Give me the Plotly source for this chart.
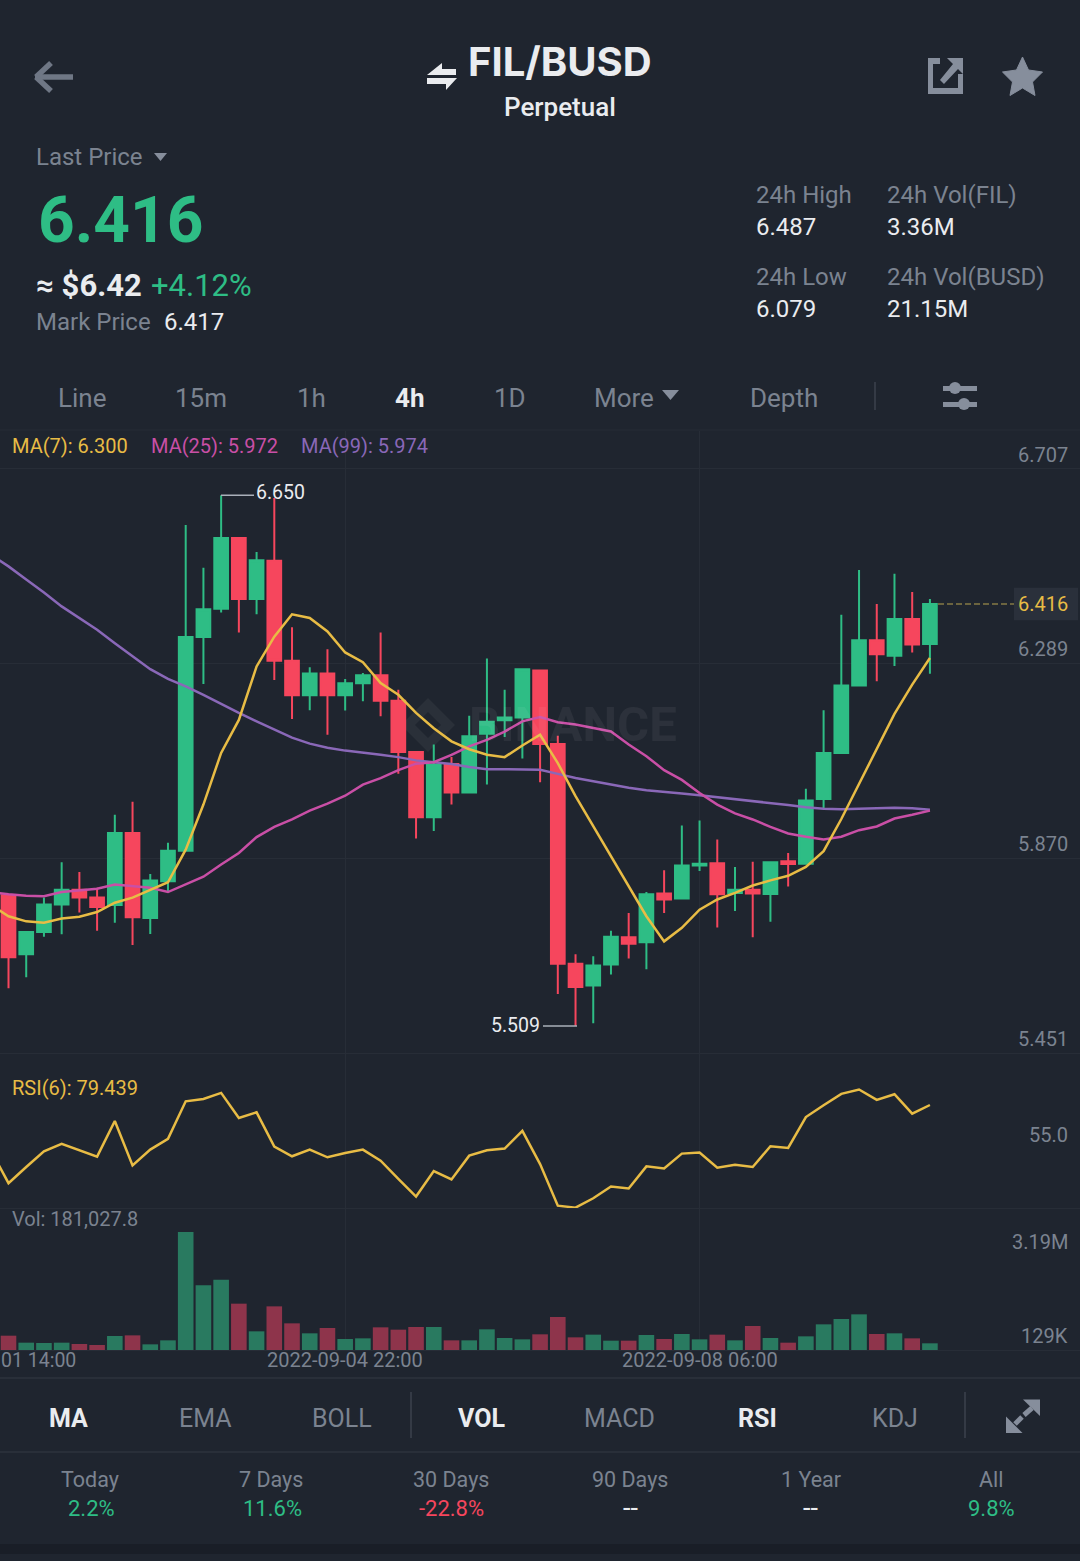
# FIL/BUSD perpetual 4h candle screen: price + MAs, RSI(6) and volume panes.
import plotly.graph_objects as go
from plotly.subplots import make_subplots

# price data, one entry per 4h candle
opens = [5.790, 5.663, 5.711, 5.770, 5.802, 5.785, 5.769, 5.924, 5.741, 5.820,
         5.886, 6.345, 6.406, 6.558, 6.427, 6.509, 6.294, 6.220, 6.267, 6.220,
         6.246, 6.263, 6.208, 6.098, 5.958, 6.072, 6.011, 6.137, 6.166, 6.172,
         6.273, 6.115, 5.643, 5.596, 5.641, 5.700, 5.689, 5.794, 5.783, 5.854,
         5.859, 5.795, 5.802, 5.793, 5.863, 5.858, 5.997, 6.096, 6.241, 6.338,
         6.305, 6.384, 6.330]
closes = [5.657, 5.711, 5.770, 5.802, 5.785, 5.765, 5.924, 5.743, 5.822, 5.886,
          6.345, 6.405, 6.558, 6.427, 6.510, 6.294, 6.220, 6.267, 6.220, 6.246,
          6.263, 6.208, 6.098, 5.958, 6.071, 6.011, 6.132, 6.163, 6.172, 6.276,
          6.115, 5.643, 5.593, 5.639, 5.701, 5.686, 5.792, 5.781, 5.854, 5.858,
          5.792, 5.802, 5.794, 5.861, 5.857, 5.994, 6.096, 6.241, 6.338, 6.308,
          6.384, 6.329, 6.416]
highs = [5.790, 5.711, 5.785, 5.861, 5.840, 5.806, 5.963, 5.991, 5.836, 5.903,
         6.586, 6.494, 6.650, 6.560, 6.528, 6.644, 6.366, 6.280, 6.319, 6.255,
         6.268, 6.355, 6.232, 6.100, 6.114, 6.087, 6.176, 6.299, 6.232, 6.276,
         6.273, 6.133, 5.663, 5.659, 5.714, 5.752, 5.797, 5.844, 5.940, 5.951,
         5.910, 5.851, 5.862, 5.861, 5.881, 6.019, 6.188, 6.393, 6.489, 6.416,
         6.481, 6.442, 6.427]
lows = [5.590, 5.614, 5.701, 5.706, 5.753, 5.714, 5.731, 5.683, 5.707, 5.798,
        5.886, 6.244, 6.398, 6.355, 6.394, 6.253, 6.169, 6.188, 6.135, 6.187,
        6.207, 6.175, 6.051, 5.912, 5.928, 5.985, 6.011, 6.028, 6.130, 6.084,
        6.033, 5.578, 5.509, 5.515, 5.620, 5.654, 5.631, 5.752, 5.783, 5.842,
        5.721, 5.756, 5.700, 5.733, 5.809, 5.858, 5.976, 6.096, 6.239, 6.250,
        6.283, 6.312, 6.266]
# volumes in thousands
volumes = [387, 198, 189, 198, 162, 135, 378, 396, 153, 261,
           3190, 1748, 1901, 1253, 505, 1180, 721, 451, 595, 297,
           315, 613, 550, 622, 622, 261, 261, 559, 324, 288,
           424, 892, 342, 415, 252, 252, 405, 297, 433, 288,
           415, 261, 649, 324, 198, 369, 694, 838, 964, 433,
           451, 315, 181]

# indicator lines start one candle earlier, off the left edge
ma7 = [5.770, 5.745, 5.734, 5.731, 5.740, 5.744, 5.754, 5.774, 5.785, 5.801, 5.818,
       5.888, 5.985, 6.096, 6.167, 6.282, 6.346, 6.394, 6.386, 6.357, 6.312,
       6.291, 6.246, 6.221, 6.182, 6.149, 6.121, 6.104, 6.092, 6.087, 6.112,
       6.135, 6.074, 6.003, 5.938, 5.874, 5.810, 5.745, 5.691, 5.720, 5.759,
       5.781, 5.795, 5.811, 5.822, 5.832, 5.851, 5.885, 5.954, 6.029, 6.104,
       6.180, 6.243, 6.300]
ma25 = [5.797, 5.792, 5.789, 5.788, 5.797, 5.801, 5.804, 5.813, 5.810, 5.806, 5.797,
        5.813, 5.830, 5.856, 5.881, 5.915, 5.937, 5.953, 5.972, 5.987, 6.004,
        6.028, 6.042, 6.059, 6.073, 6.076, 6.092, 6.110, 6.124, 6.142, 6.164,
        6.173, 6.162, 6.157, 6.149, 6.142, 6.114, 6.089, 6.059, 6.038, 6.010,
        5.985, 5.966, 5.953, 5.937, 5.923, 5.916, 5.910, 5.916, 5.930, 5.938,
        5.955, 5.963, 5.972]
ma99 = [6.522, 6.497, 6.469, 6.441, 6.411, 6.386, 6.361, 6.332, 6.303, 6.276, 6.255,
        6.239, 6.221, 6.201, 6.182, 6.164, 6.146, 6.129, 6.116, 6.107, 6.101,
        6.097, 6.092, 6.087, 6.080, 6.076, 6.072, 6.066, 6.061, 6.061, 6.061,
        6.060, 6.051, 6.042, 6.035, 6.028, 6.021, 6.016, 6.013, 6.009, 6.005,
        6.001, 5.996, 5.992, 5.988, 5.984, 5.979, 5.976, 5.975, 5.976, 5.977,
        5.978, 5.977, 5.974]
rsi6 = [53.45, 34.57, 43.82, 52.88, 57.11, 53.45, 49.79, 70.22, 44.78, 53.84, 60.00,
        81.58, 82.93, 86.40, 71.95, 75.23, 55.57, 49.99, 53.84, 49.41, 51.91,
        53.84, 47.48, 37.08, 26.86, 41.51, 36.69, 50.37, 53.45, 54.42, 64.63,
        45.50, 21.66, 20.51, 25.90, 32.65, 31.49, 44.21, 43.05, 51.53, 52.11,
        43.44, 45.17, 43.82, 55.77, 54.80, 72.53, 79.27, 85.82, 88.33, 82.35,
        85.63, 74.45, 79.44]

price_ticks = [6.707, 6.289, 5.870, 5.451]
time_ticks = [19, 39]
time_labels = ["2022-09-04 22:00", "2022-09-08 06:00"]

BG = "#1f252f"
GRID = "#272d37"
SEP = "#343a45"
GREEN = "#2ebd85"
RED = "#f6465d"
VOL_GREEN = "#297a60"
VOL_RED = "#8e344b"
YELLOW = "#e8bc45"
PINK = "#c94fa6"
PURPLE = "#8a68b8"
GRAY = "#7b8390"
ICON = "#868e9c"
WHITE = "#eaecef"
FONT = "Roboto"
W, H = 1080, 1561


def fx(px):
    return px / W


def fy(py):
    return 1 - py / H


def label(text, x, y, size, color=GRAY, anchor="left", weight=400, family=FONT):
    return dict(text=text, x=fx(x), y=fy(y), xref="paper", yref="paper", xanchor=anchor,
                yanchor="middle", showarrow=False, borderpad=0,
                font=dict(family=family, size=size, color=color, weight=weight))


def axis_label(text, yref, value, shift):
    return dict(text=text, x=fx(1069), y=value, xref="paper", yref=yref, xanchor="right",
                yanchor="middle", yshift=shift, showarrow=False, borderpad=0,
                font=dict(family=FONT, size=20, color=GRAY))


def poly(points, fill, line=None, width=0, layer="above"):
    path = "M" + " L".join(f"{fx(x):.5f},{fy(y):.5f}" for x, y in points) + " Z"
    return dict(type="path", path=path, xref="paper", yref="paper", fillcolor=fill, layer=layer,
                line=dict(color=line or fill, width=width))


def seg(x0, y0, x1, y1, color, width=1):
    return dict(type="line", x0=fx(x0), y0=fy(y0), x1=fx(x1), y1=fy(y1), xref="paper", yref="paper",
                line=dict(color=color, width=width))


candle_x = list(range(len(opens)))
line_x = list(range(-1, len(opens)))
vol_colors = [VOL_GREEN if c >= o else VOL_RED for o, c in zip(opens, closes)]

fig = make_subplots(rows=3, cols=1, shared_xaxes=True)

fig.add_trace(go.Candlestick(x=candle_x, open=opens, high=highs, low=lows, close=closes,
                             whiskerwidth=0,
                             increasing=dict(line=dict(color=GREEN, width=2), fillcolor=GREEN),
                             decreasing=dict(line=dict(color=RED, width=2), fillcolor=RED)),
              row=1, col=1)
for values, color in [(ma99, PURPLE), (ma25, PINK), (ma7, YELLOW)]:
    fig.add_trace(go.Scatter(x=line_x, y=values, mode="lines", line=dict(color=color, width=2.5)),
                  row=1, col=1)
fig.add_trace(go.Scatter(x=line_x, y=rsi6, mode="lines", line=dict(color=YELLOW, width=2.5)),
              row=2, col=1)
fig.add_trace(go.Bar(x=candle_x, y=volumes, marker=dict(color=vol_colors, line_width=0)),
              row=3, col=1)

# axes share the candle index; the left edge of the page sits half a candle before the first one
fig.update_xaxes(range=[-0.48, 60.47], tickvals=time_ticks, showticklabels=False, showgrid=True,
                 gridcolor=GRID, gridwidth=1, showline=True, linecolor=GRID, linewidth=1, ticks="",
                 zeroline=False, fixedrange=True, rangeslider_visible=False)
fig.update_yaxes(showticklabels=False, zeroline=False, fixedrange=True, showgrid=False, ticks="")
fig.update_yaxes(range=[5.451, 6.788], tickvals=price_ticks, showgrid=True, gridcolor=GRID,
                 row=1, col=1)
fig.update_yaxes(range=[20.3, 109.3], row=2, col=1)
fig.update_yaxes(range=[0, 3840], row=3, col=1)

fig.update_layout(yaxis=dict(domain=[fy(1053), fy(431)]),
                  yaxis2=dict(domain=[fy(1208), fy(1053)]),
                  yaxis3=dict(domain=[fy(1350), fy(1208)]))

annotations = [
    # header
    label("FIL/BUSD", 560, 62, 40, WHITE, "center", 700, "Inter"),
    label("Perpetual", 560, 107, 26, WHITE, "center", 500),
    label("Last Price", 35, 157, 24),
    label("6.416", 37, 220, 64, GREEN, weight=700),
    label("≈ $6.42", 35, 285, 31, WHITE, weight=700),
    label("+4.12%", 150, 285, 31, GREEN),
    label("Mark Price", 35, 322, 24),
    label("6.417", 163, 322, 24, WHITE),
    label("24h High", 755, 195, 24),
    label("6.487", 755, 227, 24, WHITE),
    label("24h Low", 755, 277, 24),
    label("6.079", 755, 309, 24, WHITE),
    label("24h Vol(FIL)", 886, 195, 24),
    label("3.36M", 886, 227, 24, WHITE),
    label("24h Vol(BUSD)", 886, 277, 24),
    label("21.15M", 886, 309, 24, WHITE),
    # interval tabs
    label("Line", 82, 398, 26, anchor="center"),
    label("15m", 201, 398, 26, anchor="center"),
    label("1h", 312, 398, 26, anchor="center"),
    label("4h", 409, 398, 26, WHITE, "center", 700),
    label("1D", 510, 398, 26, anchor="center"),
    label("More", 624, 398, 26, anchor="center"),
    label("Depth", 784, 398, 26, anchor="center"),
    # pane captions
    label("MA(7): 6.300", 11, 446, 20, YELLOW),
    label("MA(25): 5.972", 150, 446, 20, PINK),
    label("MA(99): 5.974", 300, 446, 20, PURPLE),
    label("RSI(6): 79.439", 11, 1088, 20, YELLOW),
    label("Vol: 181,027.8", 11, 1219, 20),
    # watermark
    label("BINANCE", 468, 724, 49, "rgba(255,255,255,0.06)", weight=700),
    # axis values
    axis_label("55.0", "y2", 55, 13),
    axis_label("3.19M", "y3", 3190, -10),
    axis_label("129K", "y3", 129, 9),
    # high / low marks
    dict(text="6.650", x=fx(255), y=6.650, xref="paper", yref="y", xanchor="left", yanchor="middle",
         showarrow=False, borderpad=0, yshift=3, font=dict(family=FONT, size=19.5, color=WHITE)),
    dict(text="5.509", x=fx(541), y=5.509, xref="paper", yref="y", xanchor="right", yanchor="middle",
         showarrow=False, borderpad=0, yshift=1, font=dict(family=FONT, size=19.5, color=WHITE)),
    # last price tag
    dict(text="6.416", x=fx(1069), y=6.416, xref="paper", yref="y", xanchor="right", yanchor="middle",
         showarrow=False, borderpad=0, font=dict(family=FONT, size=20, color=YELLOW)),
    # first time label, cut by the screen edge in the app
    label("01 14:00", 0, 1360, 19.5),
    # bottom tabs
    label("MA", 68, 1418, 25, WHITE, "center", 700),
    label("EMA", 205, 1418, 25, anchor="center"),
    label("BOLL", 342, 1418, 25, anchor="center"),
    label("VOL", 481, 1418, 25, WHITE, "center", 700),
    label("MACD", 619, 1418, 25, anchor="center"),
    label("RSI", 757, 1418, 25, WHITE, "center", 700),
    label("KDJ", 895, 1418, 25, anchor="center"),
    # performance row
    label("Today", 90, 1479, 21.5, anchor="center"),
    label("7 Days", 271, 1479, 21.5, anchor="center"),
    label("30 Days", 451, 1479, 21.5, anchor="center"),
    label("90 Days", 630, 1479, 21.5, anchor="center"),
    label("1 Year", 811, 1479, 21.5, anchor="center"),
    label("All", 991, 1479, 21.5, anchor="center"),
    label("2.2%", 91, 1508, 22, GREEN, "center"),
    label("11.6%", 272, 1508, 22, GREEN, "center"),
    label("-22.8%", 451, 1508, 22, RED, "center"),
    label("--", 630, 1508, 27, WHITE, "center"),
    label("--", 810, 1508, 27, WHITE, "center"),
    label("9.8%", 991, 1508, 22, GREEN, "center"),
]
for tick, text in zip(time_ticks, time_labels):
    annotations.append(dict(text=text, x=tick, y=fy(1360), xref="x3", yref="paper", xanchor="center",
                            yanchor="middle", showarrow=False, borderpad=0,
                            font=dict(family=FONT, size=20, color=GRAY)))

shapes = [
    # separators and the darker strip at the foot of the screen
    seg(0, 430, W, 430, GRID),
    seg(0, 1378, W, 1378, SEP),
    seg(0, 1452, W, 1452, SEP),
    seg(875, 382, 875, 410, SEP, 2),
    seg(411, 1392, 411, 1438, SEP, 2),
    seg(965, 1392, 965, 1438, SEP, 2),
    poly([(0, 1544), (W, 1544), (W, 1554), (0, 1554)], "#191e27"),
    # back arrow
    seg(35, 77, 73, 77, "#6f7785", 5.5),
    seg(51, 63, 36, 77, "#6f7785", 5.5),
    seg(51, 91, 36, 77, "#6f7785", 5.5),
    # pair swap icon
    poly([(427, 75), (442, 63), (442, 69), (456, 69), (456, 75)], WHITE),
    poly([(427, 78), (457, 78), (446, 90), (446, 84), (427, 84)], WHITE),
    # share icon
    poly([(928, 58), (940, 58), (940, 64), (933, 64), (933, 88), (958, 88), (958, 74), (963, 74),
          (963, 94), (928, 94)], ICON),
    poly([(947, 58), (963, 58), (963, 74), (958, 69), (944, 84), (940, 80), (953, 64)], ICON),
    # star
    poly([(1022.5, 57), (1028.5, 70), (1042.5, 72), (1032.5, 82), (1035, 95.5), (1022.5, 88),
          (1010, 95.5), (1012.5, 82), (1002.5, 72), (1016.5, 70)], ICON, ICON, 1),
    # dropdown arrows
    poly([(154, 153), (167, 153), (160.5, 161)], ICON),
    poly([(662, 390), (679, 390), (670.5, 400)], ICON),
    # settings icon
    poly([(943, 386), (977, 386), (977, 391), (943, 391)], ICON),
    poly([(943, 402), (977, 402), (977, 407), (943, 407)], ICON),
    dict(type="circle", xref="paper", yref="paper", x0=fx(949), x1=fx(961), y0=fy(382), y1=fy(394),
         fillcolor=ICON, line_width=0),
    dict(type="circle", xref="paper", yref="paper", x0=fx(958), x1=fx(970), y0=fy(398), y1=fy(410),
         fillcolor=ICON, line_width=0),
    # expand icon
    poly([(1023, 1399.5), (1040, 1399.5), (1040, 1416)], ICON),
    poly([(1006, 1416.5), (1006, 1433), (1022.5, 1433)], ICON),
    seg(1024, 1415, 1032, 1408, ICON, 5),
    seg(1015, 1424, 1022, 1417, ICON, 5),
    # watermark logo
    poly([(428, 698), (455, 725), (428, 752), (401, 725)], "rgba(255,255,255,0.05)", layer="below"),
    poly([(428, 712), (441, 725), (428, 738), (415, 725)], BG, layer="below"),
    # high / low leaders
    dict(type="line", x0=fx(221), x1=fx(254), y0=6.650, y1=6.650, xref="paper", yref="y",
         line=dict(color="#aab0ba", width=1.5)),
    dict(type="line", x0=fx(543), x1=fx(577), y0=5.509, y1=5.509, xref="paper", yref="y",
         line=dict(color="#aab0ba", width=1.5)),
    # last price tag box and dashed line
    dict(type="rect", x0=fx(1014), x1=fx(1078), y0=6.451, y1=6.381, xref="paper", yref="y",
         fillcolor="#2a303b", line_width=0),
    dict(type="line", x0=fx(938), x1=fx(1014), y0=6.416, y1=6.416, xref="paper", yref="y",
         line=dict(color="#857a45", width=1.5, dash="6px,3px")),
]

fig.update_layout(width=W, height=H, margin=dict(l=0, r=0, t=0, b=0), showlegend=False,
                  paper_bgcolor=BG, plot_bgcolor=BG, boxgap=0.227, boxgroupgap=0, bargap=0.12,
                  hovermode=False, annotations=annotations, shapes=shapes)
for tick in price_ticks:
    fig.add_annotation(axis_label(f"{tick:.3f}", "y", tick, 14))

fig.write_html("out.html", config={"displayModeBar": False},
               post_script="document.body.style.margin = '0';")
